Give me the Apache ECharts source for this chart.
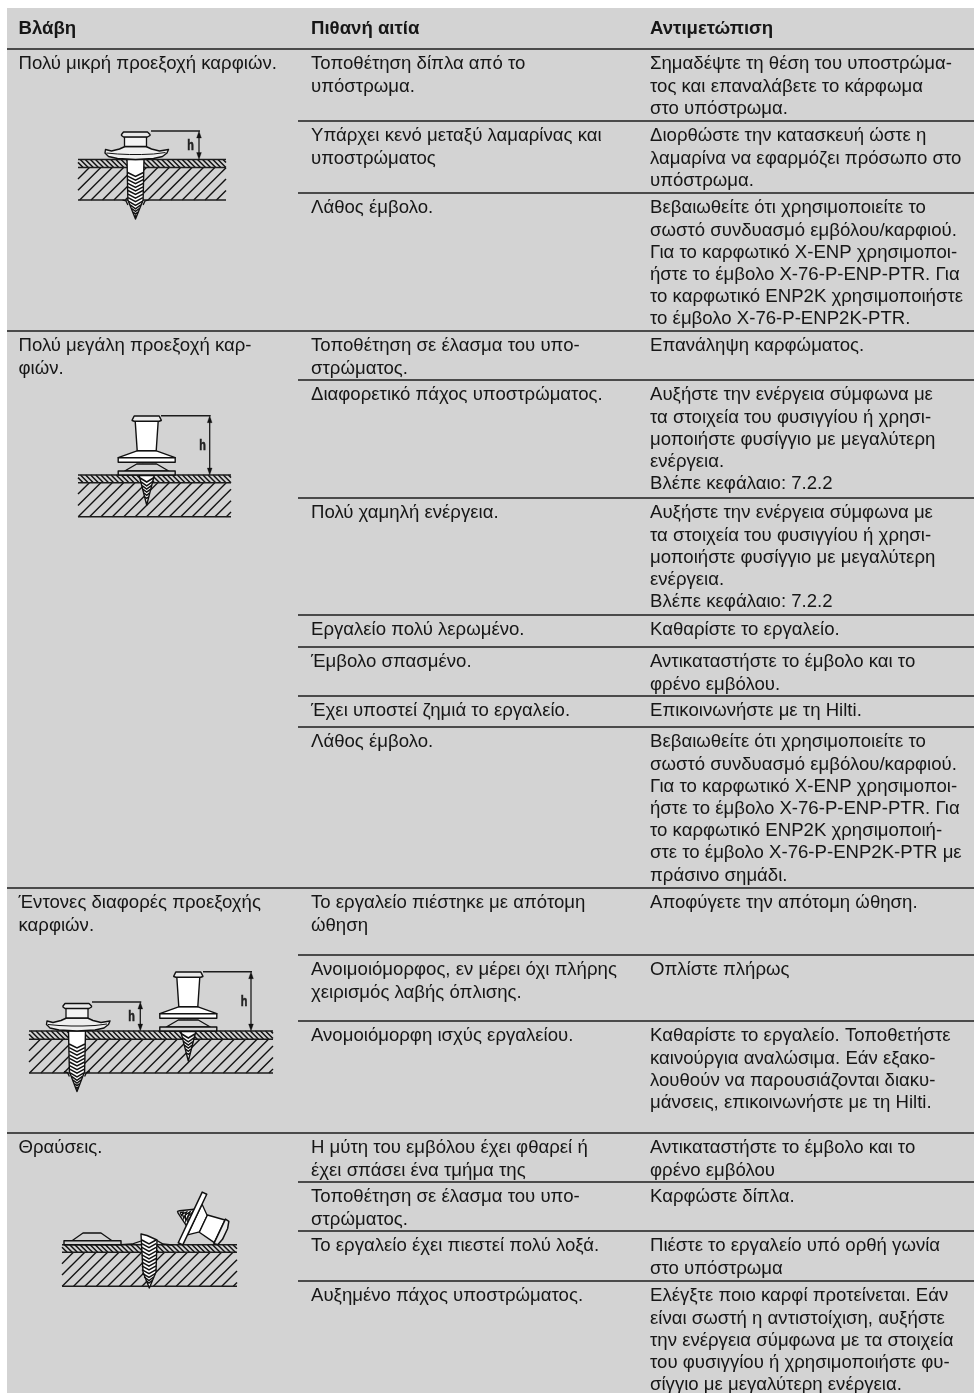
<!DOCTYPE html>
<html>
<head>
<meta charset="utf-8">
<style>html,body{margin:0;padding:0;background:#fff}#c{width:974px;height:1393px}</style>
<script src="https://cdn.jsdelivr.net/npm/echarts@6/dist/echarts.min.js"></script>
</head>
<body>
<div id="c"></div>
<script>
const headers = ['Βλάβη', 'Πιθανή αιτία', 'Αντιμετώπιση'];
const faults = [
  ['Πολύ μικρή προεξοχή καρφιών.'],
  ['Πολύ μεγάλη προεξοχή καρ-', 'φιών.'],
  ['Έντονες διαφορές προεξοχής', 'καρφιών.'],
  ['Θραύσεις.']
];
const causes = [
  ['Τοποθέτηση δίπλα από το', 'υπόστρωμα.'],
  ['Υπάρχει κενό μεταξύ λαμαρίνας και', 'υποστρώματος'],
  ['Λάθος έμβολο.'],
  ['Τοποθέτηση σε έλασμα του υπο-', 'στρώματος.'],
  ['Διαφορετικό πάχος υποστρώματος.'],
  ['Πολύ χαμηλή ενέργεια.'],
  ['Εργαλείο πολύ λερωμένο.'],
  ['Έμβολο σπασμένο.'],
  ['Έχει υποστεί ζημιά το εργαλείο.'],
  ['Λάθος έμβολο.'],
  ['Το εργαλείο πιέστηκε με απότομη', 'ώθηση'],
  ['Ανοιμοιόμορφος, εν μέρει όχι πλήρης', 'χειρισμός λαβής όπλισης.'],
  ['Ανομοιόμορφη ισχύς εργαλείου.'],
  ['Η μύτη του εμβόλου έχει φθαρεί ή', 'έχει σπάσει ένα τμήμα της'],
  ['Τοποθέτηση σε έλασμα του υπο-', 'στρώματος.'],
  ['Το εργαλείο έχει πιεστεί πολύ λοξά.'],
  ['Αυξημένο πάχος υποστρώματος.']
];
const remedies = [
  ['Σημαδέψτε τη θέση του υποστρώμα-', 'τος και επαναλάβετε το κάρφωμα', 'στο υπόστρωμα.'],
  ['Διορθώστε την κατασκευή ώστε η', 'λαμαρίνα να εφαρμόζει πρόσωπο στο', 'υπόστρωμα.'],
  ['Βεβαιωθείτε ότι χρησιμοποιείτε το', 'σωστό συνδυασμό εμβόλου/καρφιού.', 'Για το καρφωτικό X-ENP χρησιμοποι-', 'ήστε το έμβολο X-76-P-ENP-PTR. Για', 'το καρφωτικό ENP2K χρησιμοποιήστε', 'το έμβολο X-76-P-ENP2K-PTR.'],
  ['Επανάληψη καρφώματος.'],
  ['Αυξήστε την ενέργεια σύμφωνα με', 'τα στοιχεία του φυσιγγίου ή χρησι-', 'μοποιήστε φυσίγγιο με μεγαλύτερη', 'ενέργεια.', 'Βλέπε κεφάλαιο: 7.2.2'],
  ['Αυξήστε την ενέργεια σύμφωνα με', 'τα στοιχεία του φυσιγγίου ή χρησι-', 'μοποιήστε φυσίγγιο με μεγαλύτερη', 'ενέργεια.', 'Βλέπε κεφάλαιο: 7.2.2'],
  ['Καθαρίστε το εργαλείο.'],
  ['Αντικαταστήστε το έμβολο και το', 'φρένο εμβόλου.'],
  ['Επικοινωνήστε με τη Hilti.'],
  ['Βεβαιωθείτε ότι χρησιμοποιείτε το', 'σωστό συνδυασμό εμβόλου/καρφιού.', 'Για το καρφωτικό X-ENP χρησιμοποι-', 'ήστε το έμβολο X-76-P-ENP-PTR. Για', 'το καρφωτικό ENP2K χρησιμοποιή-', 'στε το έμβολο X-76-P-ENP2K-PTR με', 'πράσινο σημάδι.'],
  ['Αποφύγετε την απότομη ώθηση.'],
  ['Οπλίστε πλήρως'],
  ['Καθαρίστε το εργαλείο. Τοποθετήστε', 'καινούργια αναλώσιμα. Εάν εξακο-', 'λουθούν να παρουσιάζονται διακυ-', 'μάνσεις, επικοινωνήστε με τη Hilti.'],
  ['Αντικαταστήστε το έμβολο και το', 'φρένο εμβόλου'],
  ['Καρφώστε δίπλα.'],
  ['Πιέστε το εργαλείο υπό ορθή γωνία', 'στο υπόστρωμα'],
  ['Ελέγξτε ποιο καρφί προτείνεται. Εάν', 'είναι σωστή η αντιστοίχιση, αυξήστε', 'την ενέργεια σύμφωνα με τα στοιχεία', 'του φυσιγγίου ή χρησιμοποιήστε φυ-', 'σίγγιο με μεγαλύτερη ενέργεια.']
];

// ---- layout (kept apart from the text) ----
const rowTops = [49, 121, 193, 331, 380, 498, 615, 647, 696, 727, 888, 955, 1021, 1133, 1182, 1231, 1281];
const faultTops = [49, 331, 888, 1133];
const colX = [18.5, 311, 650];
const BG = '#d3d3d3', INK = '#161616';
const FONT = '400 18.6px "Liberation Sans", Arial, sans-serif';
const FONTB = '700 18.6px "Liberation Sans", Arial, sans-serif';
const LH = 22.2, FIRST = 20.5;

const els = [];
function txt(x, base, s, font) {
  els.push({ type: 'text', silent: true, x: x, y: base - 5.2,
    style: { text: s, fill: INK, font: font || FONT, verticalAlign: 'middle', align: 'left' } });
}
function line(x1, y1, x2, y2, w, c) {
  els.push({ type: 'line', silent: true, shape: { x1, y1, x2, y2 }, style: { stroke: c || '#1c1c1c', lineWidth: w || 1.3 } });
}
function poly(pts, fill, w, stroke) {
  els.push({ type: 'polygon', silent: true, shape: { points: pts }, style: { fill: fill, stroke: stroke || '#111', lineWidth: w == null ? 1.2 : w, lineJoin: 'round' } });
}
function pline(pts, w) {
  els.push({ type: 'polyline', silent: true, shape: { points: pts }, style: { fill: 'none', stroke: '#111', lineWidth: w || 1.2 } });
}
function off(pts, ox, oy, s) { s = s || 1; return pts.map(p => [ox + p[0] * s, oy + p[1] * s]); }

// hatch clipped to a rectangle
function hatch(x0, y0, x1, y1, step, dir, w) {
  const h = y1 - y0;
  for (let c = x0 - h; c <= x1 + h; c += step) {
    let ax = c, ay = dir > 0 ? y1 : y0, bx = c + h, by = dir > 0 ? y0 : y1;
    if (ax < x0) { const d = x0 - ax; ax = x0; ay += dir > 0 ? -d : d; }
    if (bx > x1) { const d = bx - x1; bx = x1; by += dir > 0 ? d : -d; }
    if (bx > ax) line(ax, ay, bx, by, w || 1.2, '#111');
  }
}
function plate(x0, x1, top, mid, bot) {
  hatch(x0, top, x1, mid, 5.1, -1, 1.5);
  hatch(x0, mid, x1, bot, 11.4, 1, 1.35);
  line(x0, top, x1, top, 1.5);
  line(x0, mid, x1, mid, 1.4);
  line(x0, bot, x1, bot, 1.6);
}
// chevron-filled point: halfWidth as function of y
function chevrons(cx, y0, y1, hw, step, depth) {
  for (let y = y0; y < y1 - 2; y += step) {
    const w = hw(y) - 0.3;
    if (w < 0.8) break;
    const d = Math.min(depth, w * 0.75);
    pline([[cx - w, y], [cx, y + d], [cx + w, y]], 1.5);
  }
}
function nailA(ox, oy, tip, s) {
  s = s || 1;
  const P = pts => off(pts, ox, oy, s);
  const bot = 40.5;
  pline(P([[-13, bot], [-9.5, bot + 1], [-7.6, bot + 5]]), 1.3);
  pline(P([[13, bot], [9.5, bot + 1], [7.6, bot + 5]]), 1.3);
  poly(P([[-8.5, 0], [8.5, 0], [7.6, bot], [0, tip], [-7.6, bot]]), '#fff', 1.4);
  const hw = y => y < bot ? 8.5 - 0.9 * y / bot : 7.6 * (tip - y) / (tip - bot);
  chevrons(ox, oy + 13 * s, oy + tip * s, y => hw((y - oy) / s) * s, 3.6, 4);
  // washer, neck and head
  poly(P([[-10.5, -13], [-16, -10.5], [-24, -8.5], [-30, -10], [-30.5, -6.5], [-27, -3], [-18, -1], [0, 0], [18, -1], [27, -3], [31.5, -6.5], [33, -10], [24, -8.5], [16, -10.5], [10.5, -13]]), '#efefef', 1.4);
  pline(P([[-29, -6.5], [-18, -5.5], [-6, -5], [6, -5], [18, -5.5], [30, -7]]), 1);
  poly(P([[-11, -23], [11, -23], [11, -13], [-11, -13]]), '#f4f4f4', 1.3);
  poly(P([[-14, -25], [-12, -27.5], [12, -27.5], [14.5, -25], [14.5, -24], [12, -22.5], [-12, -22.5], [-14, -24]]), '#eaeaea', 1.4);
}
function nailB(ox, oy) {
  const P = pts => off(pts, ox, oy);
  const tip = 30;
  poly(P([[-7.5, 0.5], [7.5, 0.5], [0, tip]]), '#fff', 1.4);
  chevrons(ox, oy + 3, oy + tip, y => 7.5 * (oy + tip - y) / (tip - 0.5), 3.8, 4);
  poly(P([[-22, -4], [-10, -11], [10, -11], [22, -4]]), BG, 1.3);
  poly(P([[-28.5, -4], [28.5, -4], [28.5, 0], [-28.5, 0]]), BG, 1.4);
  for (let i = -8; i <= 8; i += 3.2) line(ox + i, oy - 12.5, ox + i + 1.6, oy - 12.5, 1.2, '#111');
  poly(P([[-28.5, -17.3], [-9, -24.3], [9, -24.3], [28.5, -17.3]]), '#fff', 1.3);
  poly(P([[-28.5, -17.3], [28.5, -17.3], [28.5, -12.7], [-28.5, -12.7]]), '#fff', 1.4);
  poly(P([[-11.5, -54], [11.5, -54], [9.5, -24.3], [-9.5, -24.3]]), '#fff', 1.4);
  poly(P([[-14.5, -55], [-12.5, -59], [12.5, -59], [14.5, -55], [14.5, -54.5], [12.5, -53.8], [-12.5, -53.8], [-14.5, -54.5]]), '#eaeaea', 1.5);
}
function dim(xStart, xArrow, yTop, yBot, xH) {
  line(xStart, yTop, xArrow + 1, yTop, 1.4);
  line(xArrow, yTop + 3, xArrow, yBot - 3, 1.3);
  poly([[xArrow, yTop], [xArrow - 2.4, yTop + 7], [xArrow + 2.4, yTop + 7]], '#111', 0.3);
  poly([[xArrow, yBot], [xArrow - 2.4, yBot - 7], [xArrow + 2.4, yBot - 7]], '#111', 0.3);
  els.push({ type: 'text', silent: true, x: xH, y: (yTop + yBot) / 2 + 0.5, scaleX: 0.72,
    style: { text: 'h', fill: '#222', stroke: '#222', lineWidth: 0.6, font: '700 15px "Liberation Sans", sans-serif', align: 'center', verticalAlign: 'middle' } });
}

// ---- background and table ----
els.push({ type: 'rect', silent: true, shape: { x: 7, y: 8, width: 967, height: 1385 }, style: { fill: BG } });
headers.forEach((h, i) => txt(colX[i], 34.5, h, FONTB));
line(7, 49, 974, 49, 1.7);
faultTops.slice(1).forEach(y => line(7, y, 974, y, 1.7));
rowTops.forEach(y => { if (!faultTops.includes(y)) line(298, y, 974, y, 1.6); });
faults.forEach((ls, i) => ls.forEach((s, j) => txt(colX[0], faultTops[i] + FIRST + j * LH, s)));
causes.forEach((ls, i) => ls.forEach((s, j) => txt(colX[1], rowTops[i] + FIRST + j * LH, s)));
remedies.forEach((ls, i) => ls.forEach((s, j) => txt(colX[2], rowTops[i] + FIRST + j * LH, s)));

// ---- illustrations ----
plate(78, 226, 159.5, 167.5, 200);
nailA(135.5, 159.5, 59.5);
dim(151, 199, 131, 159.5, 190.5);
plate(78, 231, 475, 482.7, 516.7);
nailB(146.7, 475);
dim(161, 209.7, 415.7, 475, 202.5);
plate(29, 273, 1031, 1039.3, 1073);
nailA(77, 1031, 60.5);
nailB(188.3, 1031);
dim(92, 140.3, 1002, 1031, 131.5);
dim(203, 251, 971.7, 1031, 244);
plate(62, 237, 1244.7, 1252.3, 1286.3);
pline([[121, 1244.7], [132, 1244], [141, 1241]], 1.3);
pline([[157, 1240.5], [163, 1244], [172, 1245]], 1.3);
poly([[72, 1240.7], [83, 1233], [101, 1233], [112, 1240.7]], BG, 1.3);
poly([[64, 1240.7], [121, 1240.7], [121, 1244.7], [64, 1244.7]], BG, 1.4);
poly([[141, 1234], [147, 1235.5], [157, 1240], [156, 1272], [149.3, 1288], [143, 1272]], '#fff', 1.4);
chevrons(149, 1240, 1286, y => (y < 1272 ? 7.4 : 7.4 * (1288 - y) / 16), 3.7, 4);
(function () {
  const cx = 192.5, cy = 1218.5, nx = 0.905, ny = 0.428, dx = 0.428, dy = -0.905;
  const T = pts => pts.map(p => [cx + p[0] * nx + p[1] * dx, cy + p[0] * ny + p[1] * dy]);
  poly(T([[-2.5, 9], [-15, 1.5], [-16.5, 0], [-15, -1.5], [-2.5, -9]]), '#fff', 1.4);
  for (let u = -13; u < -3; u += 3) pline(T([[u - 1, 0], [u + 2, (u + 16.5) * 0.55], [u + 2, -(u + 16.5) * 0.55], [u - 1, 0]]), 1.3);
  poly(T([[2.5, 17], [12, 9], [12, -9], [2.5, -17]]), '#fff', 1.3);
  poly(T([[-2.5, -28], [2.5, -28], [2.5, 28], [-2.5, 28]]), '#fff', 1.5);
  poly(T([[12, 9.5], [30, 12.5], [30, -12.5], [12, -9.5]]), '#fff', 1.4);
  poly(T([[30, 13.5], [34, 13], [36, 6], [36, -6], [34, -13], [30, -13.5]]), '#eaeaea', 1.5);
})();

const chart = echarts.init(document.getElementById('c'), null, { renderer: 'canvas', width: 974, height: 1393 });
chart.setOption({ animation: false, backgroundColor: '#fff', graphic: { elements: els } });
</script>
</body>
</html>
